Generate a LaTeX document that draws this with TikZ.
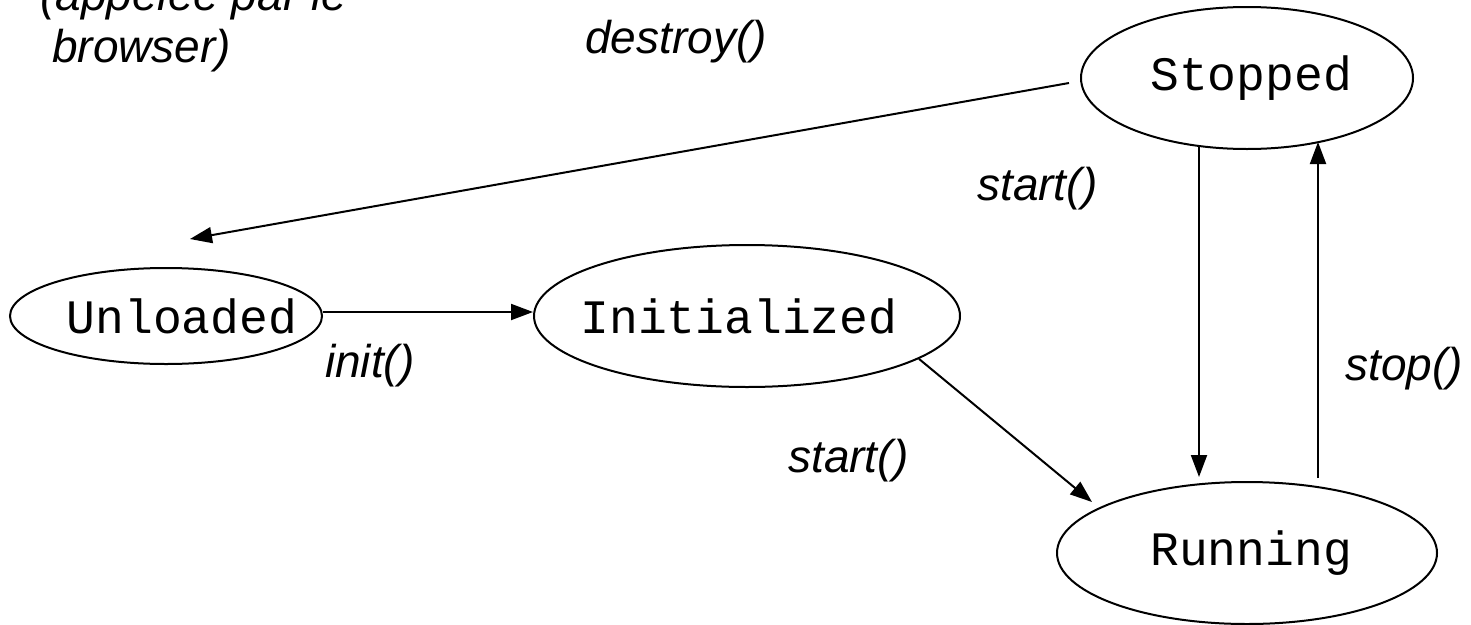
\documentclass[tikz,border=0pt]{standalone}
\usepackage{fontspec}
\setmainfont{Liberation Sans}
\newfontfamily\monof{Liberation Mono}
\usetikzlibrary{shapes.geometric,arrows.meta}
\begin{document}
\begin{tikzpicture}[x=1pt,y=-1pt,
  state/.style={ellipse,draw,line width=2pt,inner sep=0pt,font=\monof\fontsize{48}{56}\selectfont},
  lbl/.style={font=\itshape\fontsize{46}{54}\selectfont,anchor=base west,inner sep=0pt},
  conn/.style={line width=2pt,-{Triangle[length=22pt,width=16pt]}}]
\useasboundingbox[fill=white] (0,0) rectangle (1471,624);
\node[state,minimum width=332pt,minimum height=142pt] (stopped) at (1247,78) {\makebox[0pt]{\hspace*{8pt}Stopped}};
\node[state,minimum width=380pt,minimum height=142pt] (running) at (1247,553) {\makebox[0pt]{\hspace*{8pt}Running}};
\node[state,minimum width=312pt,minimum height=96pt] (unloaded) at (166,316) {\makebox[0pt]{\hspace*{32pt}Unloaded}};
\node[state,minimum width=426pt,minimum height=142pt] (initialized) at (747,316) {\makebox[0pt]{Initialized\hspace*{16pt}}};
\draw[conn] ([xshift=-11pt,yshift=-5pt]stopped.west) -- ([xshift=24pt,yshift=28pt]unloaded.north);
\draw[conn] ([yshift=4pt]unloaded.east) -- ([yshift=4pt]initialized.west);
\draw[conn] (initialized.-14.7) -- ([xshift=-155pt,yshift=51pt]running.center);
\draw[conn] ([xshift=-48pt,yshift=-68pt]stopped.center) -- ([xshift=-48pt,yshift=76pt]running.center);
\draw[conn] ([xshift=71pt,yshift=75pt]running.center) -- ([xshift=71pt,yshift=-64pt]stopped.center);
\node[lbl] (destroy) at (585,53) {destroy()};
\node[lbl] (start1) at (977,200) {start()};
\node[lbl] (start2) at (788,472) {start()};
\node[lbl] (init) at (325,377) {init()};
\node[lbl] (stop) at (1345,380) {stop()};
\node[lbl] (note1) at (40,10) {(appelée par le};
\node[lbl] (note2) at (52,62) {browser)};
\end{tikzpicture}
\end{document}
